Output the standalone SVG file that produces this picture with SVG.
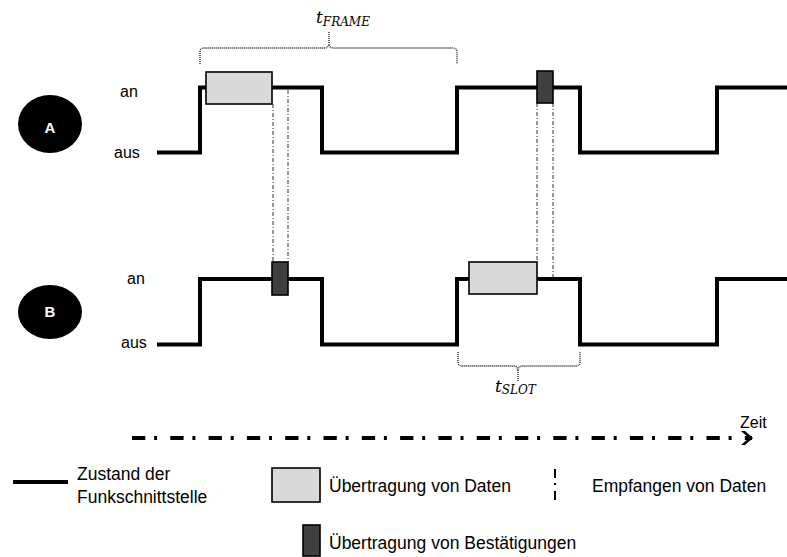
<svg xmlns="http://www.w3.org/2000/svg" width="787" height="557" viewBox="0 0 787 557">
  <style>
    .wave { fill: none; stroke: #000; stroke-width: 4; stroke-linejoin: miter; stroke-linecap: butt; }
    .data { fill: #d9d9d9; stroke: #000; stroke-width: 1.6; }
    .ack { fill: #404040; stroke: #000; stroke-width: 1.6; }
    .rx { fill: none; stroke: #333; stroke-width: 1; stroke-dasharray: 4 2 1 2; }
    .brace { fill: none; stroke: #111; stroke-width: 1.3; stroke-dasharray: 1 1; }
    .lbl { font-family: "Liberation Sans", Arial, sans-serif; font-size: 16px; fill: #000; }
    .leg { font-family: "Liberation Sans", Arial, sans-serif; font-size: 17.5px; fill: #000; }
    .node-dot { fill: #000; }
    .node-txt { font-family: "Liberation Sans", Arial, sans-serif; font-size: 15px; font-weight: bold; fill: #fff; text-anchor: middle; }
    .math { font-family: "DejaVu Serif", "Liberation Serif", serif; font-style: italic; fill: #000; }
  </style>
  <defs>
    <marker id="chevron" markerUnits="userSpaceOnUse" markerWidth="14" markerHeight="16" refX="11" refY="8" orient="auto">
      <path d="M0,1 L4,1 L12,8 L4,15 L0,15 L8,8 Z" fill="#000"/>
    </marker>
  </defs>

  <rect width="787" height="557" fill="#fff"/>

  <!-- station A -->
  <g id="station-a">
    <ellipse class="node-dot" cx="50" cy="124" rx="32" ry="29"/>
    <text class="node-txt" x="50" y="133">A</text>
    <text class="lbl" x="120" y="97">an</text>
    <text class="lbl" x="114" y="158">aus</text>
    <path class="wave" d="M157,152.5 H200 V87.5 H322 V152.5 H457 V87.5 H580 V152.5 H717 V87.5 H787"/>
  </g>

  <!-- station B -->
  <g id="station-b">
    <ellipse class="node-dot" cx="50" cy="312" rx="32" ry="27"/>
    <text class="node-txt" x="50" y="317">B</text>
    <text class="lbl" x="127" y="284">an</text>
    <text class="lbl" x="121" y="348">aus</text>
    <path class="wave" d="M157,344.5 H200 V279 H322 V344.5 H457 V279 H580 V344.5 H717 V279 H787"/>
  </g>

  <!-- reception lines between the two interfaces, and the time axis -->
  <g id="connectors">
    <line class="rx" x1="273" y1="104" x2="273" y2="262"/>
    <line class="rx" x1="288" y1="90" x2="288" y2="262"/>
    <line class="rx" x1="537" y1="103" x2="537" y2="262"/>
    <line class="rx" x1="553" y1="103" x2="553" y2="277"/>
    <line x1="132" y1="438" x2="752" y2="438" stroke="#000" stroke-width="4" stroke-dasharray="13.3 8.8 3 13.2" marker-end="url(#chevron)"/>
  </g>

  <!-- transmissions -->
  <g id="a-data"><rect class="data" x="206" y="72" width="66" height="32"/></g>
  <g id="a-ack"><rect class="ack" x="537" y="71" width="16" height="32"/></g>
  <g id="b-ack"><rect class="ack" x="272" y="262" width="16" height="33"/></g>
  <g id="b-data"><rect class="data" x="469" y="262" width="68" height="32"/></g>

  <!-- frame duration -->
  <g id="t-frame">
    <path class="brace" d="M200,64 V52 Q200,48 204,48 H325 Q328,48 329,44 Q330,48 333,48 H453 Q457,48 457,52 V64"/>
    <line class="brace" x1="329" y1="32" x2="329" y2="44" stroke-width="2"/>
    <text class="math" x="316" y="23" font-size="17">t<tspan font-size="12" dy="3">FRAME</tspan></text>
  </g>

  <!-- slot duration -->
  <g id="t-slot">
    <path class="brace" d="M458,352 V362 Q458,366 462,366 H514 Q517,366 518,370 Q519,366 522,366 H576 Q580,366 580,362 V352"/>
    <line class="brace" x1="518" y1="370" x2="518" y2="382" stroke-width="2"/>
    <text class="math" x="495" y="392" font-size="17">t<tspan font-size="12" dy="2">SLOT</tspan></text>
  </g>

  <text class="lbl" x="740" y="428">Zeit</text>

  <!-- legend -->
  <g id="legend">
    <line x1="13" y1="482" x2="68" y2="482" stroke="#000" stroke-width="4"/>
    <text class="leg" x="77" y="480">Zustand der</text>
    <text class="leg" x="77" y="503" font-size="17">Funkschnittstelle</text>
    <rect class="data" x="272" y="468" width="48" height="34" stroke-width="2"/>
    <text class="leg" x="329" y="492" font-size="18">Übertragung von Daten</text>
    <line x1="555" y1="469" x2="555" y2="500" stroke="#000" stroke-width="2" stroke-dasharray="9 5 2 6 9"/>
    <text class="leg" x="592" y="492" font-size="17">Empfangen von Daten</text>
    <rect class="ack" x="303" y="525" width="17" height="31" stroke-width="2"/>
    <text class="leg" x="329" y="549" font-size="18">Übertragung von Bestätigungen</text>
  </g>
</svg>
